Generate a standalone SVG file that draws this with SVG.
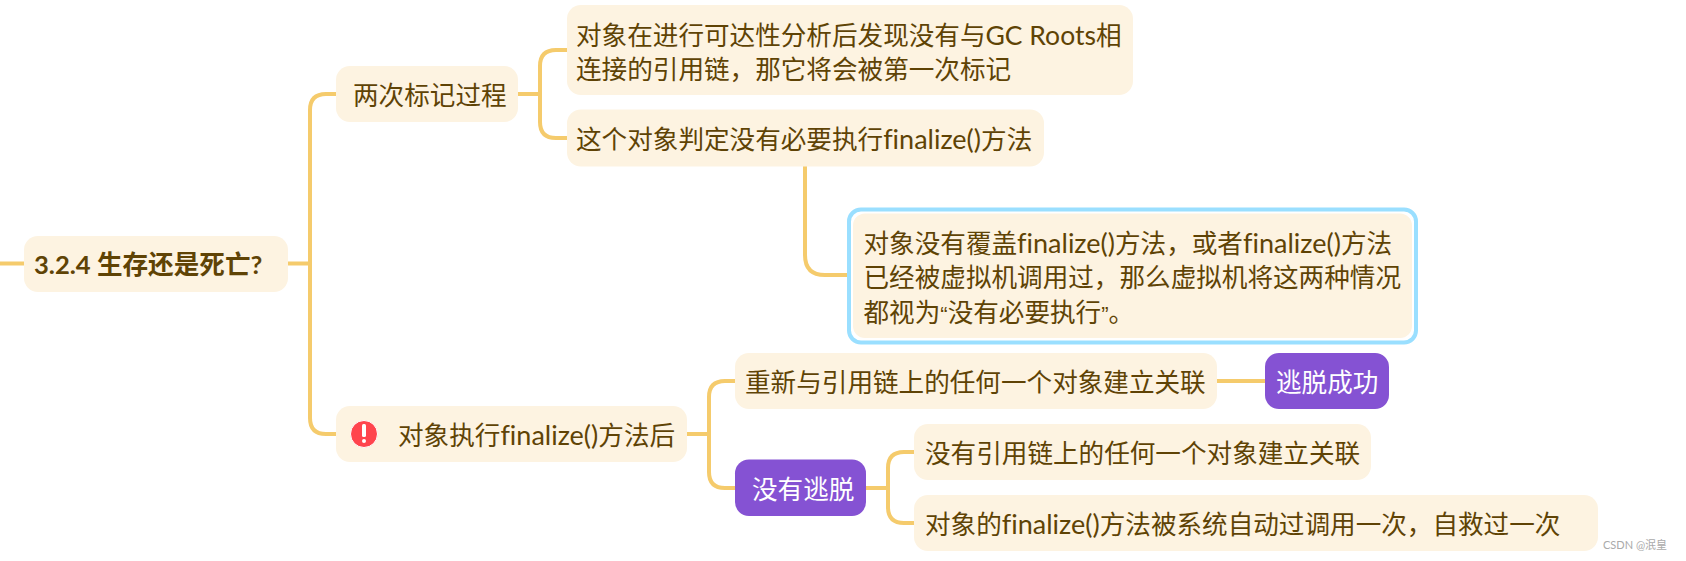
<svg xmlns="http://www.w3.org/2000/svg" width="1686" height="561" viewBox="0 0 1686 561">
<style>
.c{fill:none;stroke:#f5cb6c;stroke-width:4}
.n{fill:#fdf3e1}
.p{fill:#8552d3}
text{font-family:"Lato","Noto Sans CJK SC",sans-serif;font-size:25.6px;fill:#5f4305;font-variant-ligatures:none}
.l{font-size:27px}
.g{font-size:26.5px}
.w{fill:#fff}
.b{font-weight:700}
</style>
<rect width="1686" height="561" fill="#fff"/>
<g id="connectors">
<path class="c" d="M0 263.500H24M288 263.500H310M338 94H326Q310 94 310 110V418Q310 434 326 434H338"/>
<path class="c" d="M518 94H540M569 50H556Q540 50 540 66V122Q540 138 556 138H569"/>
<path class="c" d="M805 166V255Q805 275 825 275H853"/>
<path class="c" d="M687 434H709M737 381H725Q709 381 709 397V472Q709 488 725 488H737"/>
<path class="c" d="M1217 381H1266"/>
<path class="c" d="M866 488H888M916 452H904Q888 452 888 468V507Q888 523 904 523H916"/>
</g>
<g id="root"><rect class="n" x="24" y="236" width="264" height="56" rx="14"/><text class="b" x="34" y="274">3.2.4 生存还是死亡?</text></g>
<g id="n1"><rect class="n" x="336" y="66" width="182" height="56" rx="14"/><text x="353" y="105">两次标记过程</text></g>
<g id="n2"><rect class="n" x="567" y="5" width="566" height="90" rx="14"/><text x="576" y="45">对象在进行可达性分析后发现没有与<tspan class="g">GC Roots</tspan>相</text><text x="576" y="79">连接的引用链，那它将会被第一次标记</text></g>
<g id="n3"><rect class="n" x="567" y="109.500" width="477" height="57" rx="14"/><text x="576" y="149">这个对象判定没有必要执行<tspan class="l">finalize()</tspan>方法</text></g>
<g id="n4"><rect x="849" y="209.500" width="567" height="133" rx="12" fill="#fff" stroke="#9adfff" stroke-width="4"/><rect class="n" x="853" y="213.500" width="559" height="124.500" rx="12"/><text x="863.500" y="253">对象没有覆盖<tspan class="l">finalize()</tspan>方法，或者<tspan class="l">finalize()</tspan>方法</text><text x="863.500" y="287">已经被虚拟机调用过，那么虚拟机将这两种情况</text><text x="863.500" y="322">都视为<tspan font-family="Liberation Sans" font-size="22px">“</tspan>没有必要执行<tspan font-family="Liberation Sans" font-size="22px">”</tspan>。</text></g>
<g id="n5"><rect class="n" x="336" y="406" width="351" height="56" rx="14"/><circle cx="364" cy="434" r="13.500" fill="#ff444d" stroke="#fff" stroke-width="1"/><rect x="362" y="424" width="4" height="13" rx="1.500" fill="#fff"/><circle cx="364" cy="441" r="2" fill="#fff"/><text x="398" y="445">对象执行<tspan class="l">finalize()</tspan>方法后</text></g>
<g id="n6"><rect class="n" x="735" y="353" width="482" height="56" rx="14"/><text x="745" y="392">重新与引用链上的任何一个对象建立关联</text></g>
<g id="n7"><rect class="p" x="1265" y="353" width="124" height="56" rx="14"/><text class="w" x="1276" y="392">逃脱成功</text></g>
<g id="n8"><rect class="p" x="735" y="459.500" width="131" height="56.500" rx="14"/><text class="w" x="752" y="499">没有逃脱</text></g>
<g id="n9"><rect class="n" x="914" y="424" width="457" height="56" rx="14"/><text x="925" y="463">没有引用链上的任何一个对象建立关联</text></g>
<g id="n10"><rect class="n" x="914" y="495" width="684" height="56" rx="14"/><text x="925" y="534">对象的<tspan class="l">finalize()</tspan>方法被系统自动过调用一次，自救过一次</text></g>
<text x="1603" y="549" style="font-size:11px;fill:#aaa">CSDN @泯皇</text>
</svg>
